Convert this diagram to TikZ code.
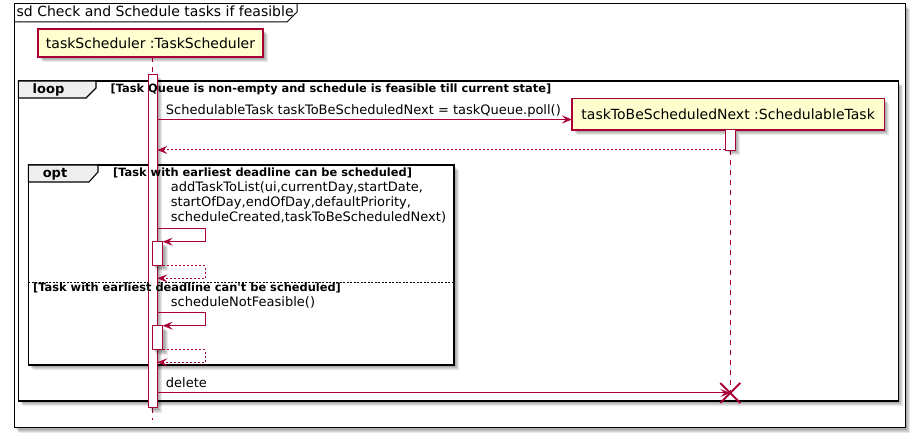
\documentclass[tikz,border=0pt]{standalone}
\usepackage{fontspec}
\setmainfont{DejaVu Sans}
\usetikzlibrary{arrows.meta,calc}
\definecolor{pborder}{HTML}{A80036}
\definecolor{pfill}{HTML}{FEFECE}
\definecolor{tabfill}{HTML}{EEEEEE}
\newcommand{\msgfont}{\fontsize{13}{15}\selectfont}
\newcommand{\partfont}{\fontsize{14}{16}\selectfont}
\newcommand{\guardfont}{\fontsize{11.4}{13}\selectfont\bfseries}
\newcommand{\tabfont}{\fontsize{13}{15}\selectfont\bfseries}
\newcommand{\straightquote}{{\addfontfeatures{Ligatures=TeXOff}'}}
\newcommand{\shadowbox}[4]{%
  \foreach \d in {2,3,4,5} {\fill[black,opacity=0.09] ({#1+\d},{#2+\d}) rectangle ({#3+\d},{#4+\d});}}
\tikzset{
  partbox/.style={draw=pborder, fill=pfill, line width=1.3pt, inner sep=0pt, font=\partfont},
  actbox/.style={draw=pborder, fill=white, line width=1pt},
  lifeline/.style={draw=pborder, line width=1pt, dash pattern=on 5pt off 5pt},
  msg/.style={draw=pborder, line width=1pt, -{Stealth[length=10pt,width=8pt,inset=4pt]}},
  retmsg/.style={msg, dash pattern=on 2pt off 2pt},
  grpframe/.style={draw=black, line width=1.6pt},
  tabshape/.style={draw=black, line width=1.1pt, fill=tabfill},
  txt/.style={anchor=base west, inner sep=0pt},
}
\begin{document}
\begin{tikzpicture}[x=1pt,y=-1pt]
\useasboundingbox (0,0) rectangle (914,438);
\fill[white] (0,0) rectangle (914,438);
% outer frame
\shadowbox{14}{4}{905}{428}
\draw[black, line width=1pt, fill=white] (14,4) rectangle (905,428);
\draw[black, line width=1pt] (14,22) -- (287,22) -- (297,12) -- (297,4);
\node[txt, font=\partfont] (title) at (16.5,17) {sd Check and Schedule tasks if feasible};
% participant 1
\shadowbox{38}{29}{263}{57}
\node[partbox, minimum width=225pt, minimum height=28pt] (p1) at (150.5,43) {taskScheduler :TaskScheduler};
% loop frame
\shadowbox{18.3}{81}{898.3}{401}
\draw[grpframe, fill=white] (18.3,81) rectangle (898.3,401);
\draw[tabshape] (18.3,81) -- (96,81) -- (96,88) -- (86,98) -- (18.3,98) -- cycle;
\node[anchor=base, inner sep=0pt, font=\tabfont] (looplbl) at (48.5,94) {loop};
% opt frame
\shadowbox{28.3}{165}{454}{365}
\draw[grpframe, fill=white] (28.3,165) rectangle (454,365);
\draw[tabshape] (28.3,165) -- (98,165) -- (98,172) -- (89,182) -- (28.3,182) -- cycle;
\node[anchor=base, inner sep=0pt, font=\tabfont] (optlbl) at (55,177.3) {opt};
\draw[black, line width=0.8pt, dash pattern=on 2pt off 1.5pt] (28.3,282) -- (454,282);
% lifeline 1
\coordinate (l1top) at (152.3,57);
\coordinate (l1a) at (152.3,74.5);
\coordinate (l1b) at (152.3,408);
\coordinate (l1end) at (152.3,420);
\draw[lifeline] (l1top) -- (l1a);
\draw[lifeline] (l1b) -- (l1end);
\shadowbox{148}{74.5}{157.3}{408}
\node[actbox, minimum width=9.3pt, minimum height=333.5pt, inner sep=0pt] (act1) at (152.65,241.25) {};
% participant 2
\shadowbox{572}{98.3}{884.3}{130}
\node[partbox, minimum width=312.3pt, minimum height=31.7pt] (p2) at (728.15,114.15) {taskToBeScheduledNext :SchedulableTask};
\coordinate (l2a) at (730.3,150.5);
\coordinate (l2end) at (730.3,393);
\draw[lifeline] (l2a) -- (l2end);
\shadowbox{725.3}{130}{735.3}{150.5}
\node[actbox, minimum width=10pt, minimum height=20.5pt, inner sep=0pt] (act2) at (730.3,140.25) {};
% guards (drawn over the activation bar)
\node[txt, font=\guardfont] (loopguard) at (110.5,93) {[Task Queue is non-empty and schedule is feasible till current state]};
\node[txt, font=\guardfont] (optguard) at (113,176.7) {[Task with earliest deadline can be scheduled]};
\node[txt, font=\guardfont] (elseguard) at (33,292) {[Task with earliest deadline can\straightquote t be scheduled]};
% message 1
\coordinate (m1s) at (157.3,119.5);
\coordinate (m1e) at (572,119.5);
\draw[msg] (m1s) -- (m1e);
\node[txt, font=\msgfont] (m1t) at (165.7,115) {SchedulableTask taskToBeScheduledNext = taskQueue.poll()};
% return 1
\coordinate (r1s) at (725.3,150);
\coordinate (r1e) at (157.3,150);
\draw[retmsg] (r1s) -- (r1e);
% self message addTaskToList
\node[txt, font=\msgfont] (s1t1) at (170.7,191.5) {addTaskToList(ui,currentDay,startDate,};
\node[txt, font=\msgfont] (s1t2) at (170.7,206.5) {startOfDay,endOfDay,defaultPriority,};
\node[txt, font=\msgfont] (s1t3) at (170.7,221.5) {scheduleCreated,taskToBeScheduledNext)};
\coordinate (s1a) at (157.3,229);
\coordinate (s1b) at (205,229);
\coordinate (s1c) at (205,241.7);
\coordinate (s1d) at (162.7,241.7);
\draw[msg] (s1a) -- (s1b) -- (s1c) -- (s1d);
\shadowbox{152.3}{241.7}{162.7}{266}
\node[actbox, minimum width=10.4pt, minimum height=24.3pt, inner sep=0pt] (act3) at (157.5,253.85) {};
\coordinate (t1a) at (162.7,266);
\coordinate (t1b) at (205,266);
\coordinate (t1c) at (205,278.3);
\coordinate (t1d) at (157.3,278.3);
\draw[retmsg] (t1a) -- (t1b) -- (t1c) -- (t1d);
% self message scheduleNotFeasible
\node[txt, font=\msgfont] (s2t) at (170.7,306.5) {scheduleNotFeasible()};
\coordinate (s2a) at (157.3,312.7);
\coordinate (s2b) at (205,312.7);
\coordinate (s2c) at (205,325.7);
\coordinate (s2d) at (162.7,325.7);
\draw[msg] (s2a) -- (s2b) -- (s2c) -- (s2d);
\shadowbox{152.3}{325.7}{162.7}{350}
\node[actbox, minimum width=10.4pt, minimum height=24.3pt, inner sep=0pt] (act4) at (157.5,337.85) {};
\coordinate (t2a) at (162.7,350);
\coordinate (t2b) at (205,350);
\coordinate (t2c) at (205,362.3);
\coordinate (t2d) at (157.3,362.3);
\draw[retmsg] (t2a) -- (t2b) -- (t2c) -- (t2d);
% delete
\node[txt, font=\msgfont] (delt) at (165.7,388) {delete};
\coordinate (ds) at (157.3,393);
\coordinate (de) at (730.3,393);
\draw[msg] (ds) -- (de);
\draw[pborder, line width=2pt] ($(de)+(-10,-10)$) -- ($(de)+(10,10)$);
\draw[pborder, line width=2pt] ($(de)+(-10,10)$) -- ($(de)+(10,-10)$);
\end{tikzpicture}
\end{document}
